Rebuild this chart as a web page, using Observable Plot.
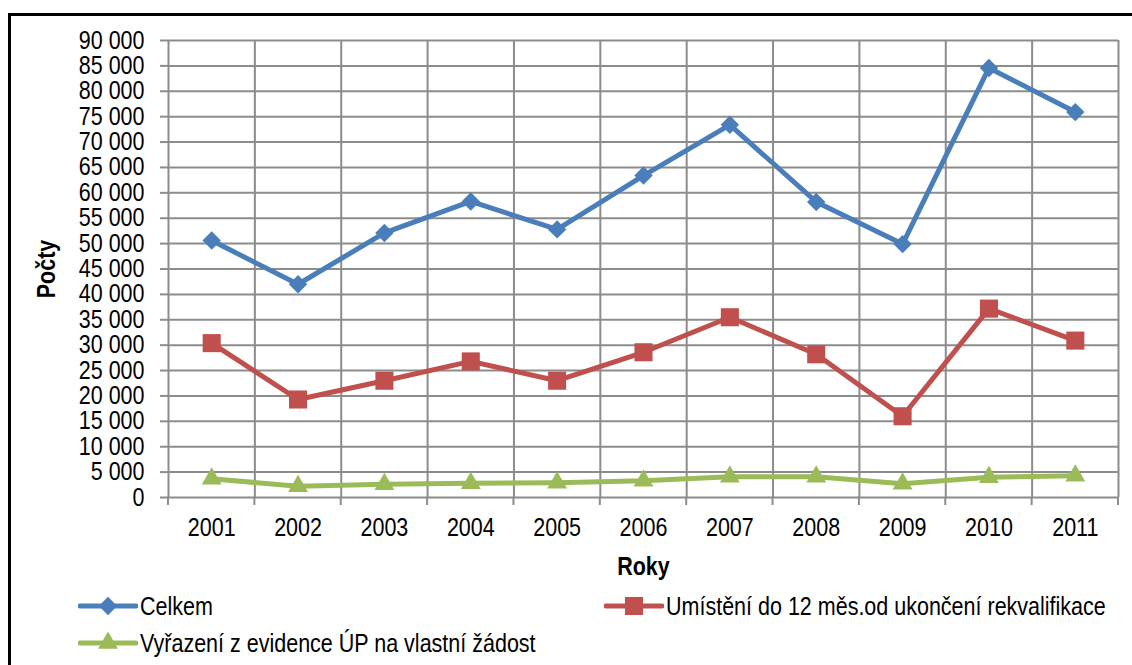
<!DOCTYPE html>
<html>
<head>
<meta charset="utf-8">
<script src="https://cdn.jsdelivr.net/npm/d3@7"></script>
<script src="https://cdn.jsdelivr.net/npm/@observablehq/plot@0.6"></script>
<style>
  html, body { margin: 0; padding: 0; background: #fff; }
  body { width: 1132px; height: 665px; position: relative; overflow: hidden;
         font-family: "Liberation Sans", Arial, sans-serif; }
  #frame { position: absolute; left: 8px; top: 13px; width: 1200px; height: 700px;
           border-left: 3px solid #000; border-top: 3px solid #000; }
  #chart { position: absolute; left: 0; top: 0; }
  #chart svg { font-family: "Liberation Sans", Arial, sans-serif; }
  g[aria-label="y-axis label"] text, g[aria-label="x-axis label"] text { font-weight: bold; font-size: 25px; }
  .leg { position: absolute; display: flex; align-items: center; font-size: 25px; color: #000; white-space: nowrap; }
  .leg svg { display: block; margin-right: 2px; }
  .leg span { display: inline-block; transform: scaleX(0.86); transform-origin: 0 50%; }
</style>
</head>
<body>
<div id="frame"></div>
<div id="chart"></div>
<div id="legend"></div>
<script>
const years = [2001, 2002, 2003, 2004, 2005, 2006, 2007, 2008, 2009, 2010, 2011];
const celkem = [50600, 42000, 52100, 58300, 52800, 63400, 73400, 58200, 49900, 84600, 75900];
const umisteni = [30400, 19300, 23000, 26800, 23000, 28600, 35500, 28200, 16000, 37200, 30900];
const vyrazeni = [3700, 2200, 2600, 2800, 2900, 3300, 4100, 4100, 2700, 4000, 4300];
const seriesNames = ["Celkem", "Umístění do 12 měs.od ukončení rekvalifikace", "Vyřazení z evidence ÚP na vlastní žádost"];
const seriesColors = ["#4A7EBB", "#C0504D", "#9BBB59"];
const yTicks = [0, 5000, 10000, 15000, 20000, 25000, 30000, 35000, 40000, 45000, 50000, 55000, 60000, 65000, 70000, 75000, 80000, 85000, 90000];

const allSeries = [celkem, umisteni, vyrazeni];
const data = allSeries.flatMap((vals, si) => years.map((yr, i) => ({year: yr, value: vals[i], series: seriesNames[si]})));
const bounds = years.map(y => y - 0.5).concat([years[years.length - 1] + 0.5]);
const fmt = d => d3.format(",")(d).replace(/,/g, " ");
const symbols = ["diamond2", "square", "triangle"];
const radii = [8.3, 10.2, 7.4];
const SX = 0.86;

const marks = [
  Plot.ruleY(yTicks, {stroke: "#8C8C8C", strokeWidth: 2, strokeOpacity: 1}),
  Plot.ruleX(bounds, {stroke: "#8C8C8C", strokeWidth: 2, strokeOpacity: 1, y1: 0, y2: 90000}),
  Plot.axisY({ticks: yTicks, tickFormat: fmt, tickSize: 8, tickPadding: 16, stroke: "#8C8C8C", strokeWidth: 2, strokeOpacity: 1, fontSize: 25, fill: "#000",
               label: "Počty", labelAnchor: "center", labelArrow: "none", labelOffset: 131}),
  Plot.axisX({ticks: years, tickFormat: d => String(d), tickSize: 0, tickPadding: 21, fontSize: 25, fill: "#000",
              label: "Roky", labelAnchor: "center", labelArrow: "none", labelOffset: 77}),
];
allSeries.forEach((vals, si) => {
  const d = data.filter(r => r.series === seriesNames[si]);
  marks.push(Plot.line(d, {x: "year", y: "value", stroke: seriesColors[si], strokeWidth: 5, strokeLinejoin: "round"}));
});
allSeries.forEach((vals, si) => {
  const d = data.filter(r => r.series === seriesNames[si]);
  marks.push(Plot.dot(d, {x: "year", y: "value", symbol: () => symbols[si], r: radii[si], fill: seriesColors[si], stroke: "none"}));
});

const chart = Plot.plot({
  width: 1132,
  height: 580,
  marginLeft: 168,
  marginRight: 14,
  marginTop: 40,
  marginBottom: 83,
  style: {background: "transparent", overflow: "visible"},
  x: {type: "linear", domain: [years[0] - 0.5, years[years.length - 1] + 0.5]},
  y: {domain: [0, 90000]},
  symbol: {type: "identity"},
  marks
});
document.getElementById("chart").appendChild(chart);

// condense all texts horizontally (narrow font look); only numeric x folded into the transform
chart.querySelectorAll("text").forEach(t => {
  const xa = t.getAttribute("x");
  let extra = "";
  if (xa !== null && isFinite(+xa)) { extra = `translate(${+xa},0) `; t.removeAttribute("x"); }
  const tr = t.getAttribute("transform") || "";
  t.setAttribute("transform", `${tr} ${extra}scale(${SX},1)`);
});

// x tick marks at band boundaries below the axis, positioned with the chart's scales
const xs = chart.scale("x"), ys = chart.scale("y");
const svgNS = "http://www.w3.org/2000/svg";
const g = document.createElementNS(svgNS, "g");
bounds.forEach(b => {
  const l = document.createElementNS(svgNS, "line");
  const px = xs.apply(b), py = ys.apply(0);
  l.setAttribute("x1", px); l.setAttribute("x2", px);
  l.setAttribute("y1", py); l.setAttribute("y2", py + 8);
  l.setAttribute("stroke", "#8C8C8C"); l.setAttribute("stroke-width", 2);
  g.appendChild(l);
});
chart.appendChild(g);

// legend
const legend = document.getElementById("legend");
const legPos = [{left: 78, top: 606}, {left: 604, top: 606}, {left: 78, top: 643}];
seriesNames.forEach((name, si) => {
  const div = document.createElement("div");
  div.className = "leg";
  div.style.left = legPos[si].left + "px";
  div.style.top = (legPos[si].top - 15) + "px";
  div.style.height = "30px";
  const sw = d3.create("svg").attr("width", 60).attr("height", 30);
  sw.append("line").attr("x1", 2).attr("x2", 58).attr("y1", 15).attr("y2", 15)
    .attr("stroke", seriesColors[si]).attr("stroke-width", 5).attr("stroke-linecap", "round");
  const symType = [d3.symbolDiamond2, d3.symbolSquare, d3.symbolTriangle][si];
  const size = Math.PI * radii[si] * radii[si];
  sw.append("path").attr("transform", "translate(30,15)").attr("d", d3.symbol(symType, size)()).attr("fill", seriesColors[si]);
  div.appendChild(sw.node());
  const span = document.createElement("span");
  span.textContent = name;
  div.appendChild(span);
  legend.appendChild(div);
});
</script>
</body>
</html>
